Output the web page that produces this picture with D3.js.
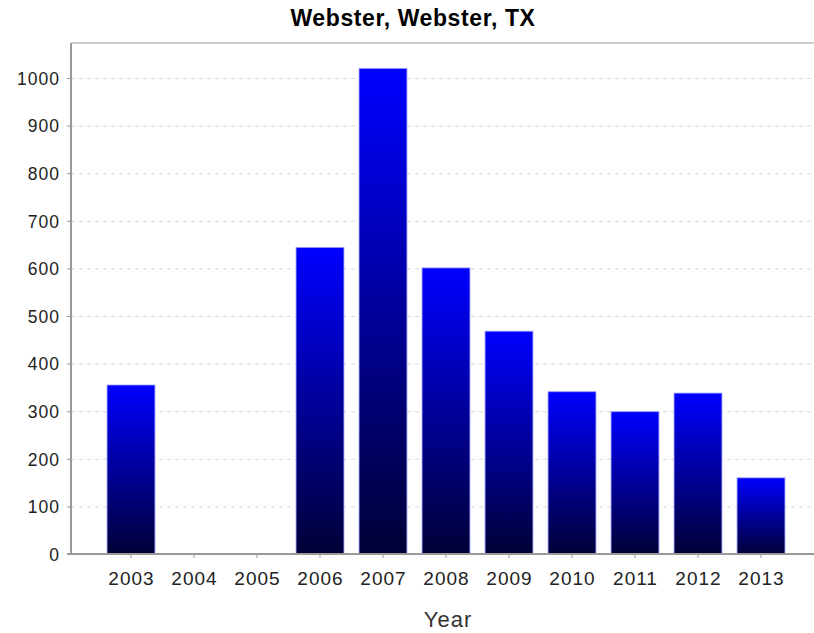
<!DOCTYPE html>
<html>
<head>
<meta charset="utf-8">
<script src="https://cdn.jsdelivr.net/npm/d3@7"></script>
<style>
  html, body { margin: 0; padding: 0; background: #fff; }
  svg { display: block; }
</style>
</head>
<body>
<svg id="chart" width="814" height="633"></svg>
<script>
const title = "Webster, Webster, TX";
const xTitle = "Year";
const years = ["2003","2004","2005","2006","2007","2008","2009","2010","2011","2012","2013"];
const values = [355, 0, 0, 644, 1020, 601, 468, 341, 299, 338, 160];
const yTicks = [0,100,200,300,400,500,600,700,800,900,1000];

const svg = d3.select("#chart");
const FONT = "'Liberation Sans', Arial, sans-serif";
const plot = { left: 71, right: 814, top: 43, bottom: 554 };

const y = d3.scaleLinear().domain([0, 1073.5]).range([plot.bottom, plot.top]);
const x = d3.scaleBand().domain(years).range([99.5, 792.5]).paddingInner(0.24).paddingOuter(0.12);

const defs = svg.append("defs");
const grad = defs.append("linearGradient").attr("id", "barGrad")
  .attr("x1", 0).attr("y1", 0).attr("x2", 0).attr("y2", 1);
grad.append("stop").attr("offset", "0%").attr("stop-color", "#0000ff");
grad.append("stop").attr("offset", "100%").attr("stop-color", "#000036");

// gridlines
svg.append("g").selectAll("line").data(yTicks.filter(d => d > 0)).join("line")
  .attr("x1", plot.left).attr("x2", plot.right)
  .attr("y1", d => y(d) + 0.5).attr("y2", d => y(d) + 0.5)
  .attr("stroke", "#d8d8d8").attr("stroke-width", 1).attr("stroke-dasharray", "4,4");

// top border
svg.append("line").attr("x1", plot.left).attr("x2", plot.right)
  .attr("y1", plot.top).attr("y2", plot.top)
  .attr("stroke", "#cccccc").attr("stroke-width", 2);

// bars
svg.append("g").selectAll("rect").data(years.map((d, i) => ({ year: d, v: values[i] })).filter(d => d.v > 0))
  .join("rect")
  .attr("x", d => x(d.year))
  .attr("y", d => y(d.v))
  .attr("width", x.bandwidth())
  .attr("height", d => y(0) - y(d.v))
  .attr("fill", "url(#barGrad)")
  .attr("stroke", "#9a9aff").attr("stroke-width", 1).attr("stroke-opacity", 0.8);

// y axis
const yAxis = d3.axisLeft(y).tickValues(yTicks).tickSize(4).tickPadding(8).tickFormat(d3.format("d"));
const gy = svg.append("g").attr("transform", `translate(${plot.left},0)`).call(yAxis);
gy.select(".domain").attr("stroke", "#999").attr("stroke-width", 2).attr("d", `M0,${plot.top}V${plot.bottom}`);
gy.selectAll(".tick line").attr("stroke", "#999");
gy.selectAll(".tick text").attr("font-family", FONT).attr("font-size", 17.5)
  .attr("letter-spacing", 1).attr("dx", 1).attr("fill", "#222").attr("dy", "0.36em");

// x axis
const xAxis = d3.axisBottom(x).tickSize(4).tickPadding(14);
const gx = svg.append("g").attr("transform", `translate(0,${plot.bottom})`).call(xAxis);
gx.select(".domain").attr("stroke", "#999").attr("stroke-width", 2).attr("d", `M${plot.left - 4},0H${plot.right}`);
gx.selectAll(".tick line").attr("stroke", "#999");
gx.selectAll(".tick text").attr("font-family", FONT).attr("font-size", 19)
  .attr("letter-spacing", 1).attr("dx", 0.5).attr("fill", "#222");

// title
svg.append("text").attr("x", 413).attr("y", 26).attr("text-anchor", "middle")
  .attr("font-family", FONT).attr("font-weight", "bold").attr("font-size", 23)
  .attr("letter-spacing", 0.6)
  .attr("fill", "#000").text(title);

// x title
svg.append("text").attr("x", 448).attr("y", 627).attr("text-anchor", "middle")
  .attr("font-family", FONT).attr("font-size", 22).attr("letter-spacing", 1)
  .attr("fill", "#333").text(xTitle);
</script>
</body>
</html>
